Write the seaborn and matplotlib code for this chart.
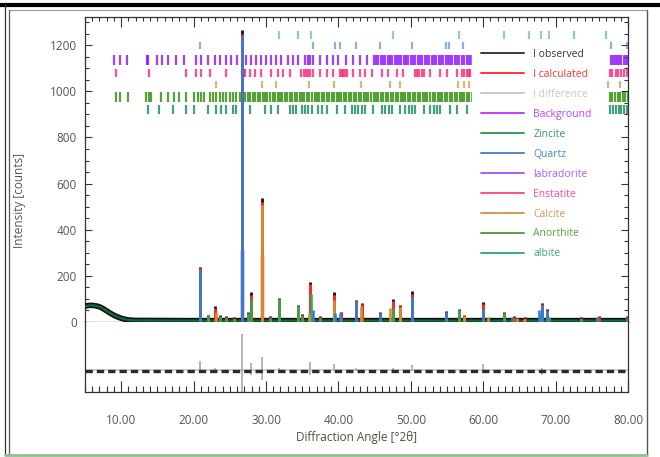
import numpy as np
import pandas as pd
import matplotlib
matplotlib.use("Agg")
import matplotlib.pyplot as plt
import seaborn as sns
from matplotlib.lines import Line2D
from matplotlib.ticker import MultipleLocator

sns.set_theme(style="white")
plt.rcParams['font.family'] = ['Open Sans', 'DejaVu Sans']

# ---------------- data ----------------
# background / low-angle hump
bg_x = [5, 5.5, 6, 6.5, 7, 7.5, 8, 8.5, 9, 9.5, 10, 10.5, 11, 12, 20, 40, 60, 80]
bg_y = [68, 72, 72, 70, 66, 58, 48, 38, 29, 22, 16, 12, 9, 7, 6, 6, 6, 6]

# observed peak tips (2theta, counts)
obs_pos = [20.86, 22.0, 23.0, 23.6, 24.5, 25.6, 26.64, 27.45, 27.9, 29.4, 30.5, 31.8,
           34.4, 35.0, 36.1, 37.5, 39.4, 40.3, 42.45, 43.2, 45.8, 47.5, 48.5, 50.14,
           54.9, 56.6, 57.4, 60.0, 62.9, 64.3, 65.8, 68.1, 68.8, 73.5, 76.0, 79.9]
obs_h = [240, 30, 68, 30, 25, 20, 1265, 45, 130, 537, 25, 104,
         74, 35, 173, 25, 130, 45, 96, 82, 43, 98, 74, 134,
         47, 56, 30, 88, 43, 25, 20, 82, 55, 20, 25, 25]
# calculated tips
calc_h = [232, 26, 60, 26, 22, 17, 1250, 40, 118, 520, 22, 100,
          70, 30, 165, 22, 118, 42, 92, 76, 40, 92, 70, 122,
          44, 52, 27, 78, 40, 22, 18, 78, 52, 18, 22, 22]

# phase contributions
quartz_pos = [20.86, 26.64, 36.54, 39.47, 40.29, 42.45, 45.79, 50.14, 54.87, 59.96, 64.03, 67.74, 68.14, 68.8, 75.66, 79.88]
quartz_h = [225, 1240, 50, 40, 40, 90, 40, 110, 42, 55, 20, 50, 72, 48, 20, 20]
calcite_pos = [23.06, 29.40, 35.97, 39.42, 43.17, 47.12, 48.52, 57.41, 60.68, 64.68, 65.6]
calcite_h = [45, 505, 40, 95, 70, 60, 66, 26, 20, 16, 14]
zincite_pos = [31.77, 34.42, 36.25, 47.54, 56.6, 62.86, 67.96, 69.1]
zincite_h = [98, 68, 120, 60, 50, 38, 34, 22]
anorthite_pk_pos = [22.0, 23.6, 24.5, 25.6, 27.45, 27.9, 30.5, 35.0, 37.5, 73.5]
anorthite_pk_h = [24, 22, 18, 14, 38, 100, 18, 28, 18, 15]

# difference curve spikes
diff_pos = [20.86, 23.0, 26.64, 26.64, 27.9, 27.9, 29.4, 29.4, 31.8, 36.1, 36.1, 39.4,
            42.45, 47.5, 47.5, 50.14, 60.0, 68.1, 68.1]
diff_val = [45, 15, 160, -110, 35, -15, 60, -40, 15, 40, -15, 30,
            15, 15, -10, 25, 30, 15, -15]

# reflection tick positions
zincite_ticks = [31.77, 34.42, 36.25, 47.54, 56.6, 62.86, 66.38, 67.96, 69.1, 72.56, 76.95]
quartz_ticks = [20.86, 26.64, 36.54, 39.47, 40.29, 42.45, 45.79, 50.14, 54.87, 55.33, 57.2,
                59.96, 64.03, 67.74, 68.14, 68.31, 73.47, 75.66, 77.67, 79.88]
labradorite_ticks = [8.94, 9.82, 10.79, 13.55, 13.75, 15.0, 15.7, 16.4, 17.58, 18.64, 20.35, 21.0,
                     21.96, 22.9, 23.58, 24.5, 25.2, 25.98, 27.28, 27.97, 28.67, 29.36, 30.05,
                     30.75, 31.44, 32.14, 33.06, 33.75, 34.45, 35.4, 35.75, 36.06, 36.5, 37.4,
                     38.4, 39.3, 40.0, 41.1, 42.06, 43.0, 43.9, 44.85, 45.2, 45.5, 45.85, 46.1,
                     46.45, 46.8, 47.1, 47.4, 47.75, 48.05, 48.4, 48.7, 49.0, 49.35, 49.65, 50.0,
                     50.3, 50.6, 50.95, 51.3, 51.6, 51.9, 52.25, 52.55, 52.9, 53.2, 53.5, 53.85,
                     54.15, 54.5, 54.8, 55.1, 55.45, 55.75, 56.1, 56.4, 56.7, 57.05, 57.35, 57.7,
                     58.0, 58.25, 77.6, 77.9, 78.2, 78.5, 78.8, 79.1, 79.4, 79.7, 79.95]
enstatite_ticks = [9.35, 13.88, 18.97, 20.35, 21.04, 22.2, 24.5, 26.68, 26.9, 27.14, 27.74, 28.44,
                   29.36, 30.75, 31.67, 32.36, 33.29, 34.9, 35.2, 35.46, 35.75, 36.06, 36.52,
                   37.45, 38.37, 39.29, 40.22, 40.45, 40.68, 40.9, 41.14, 42.06, 42.99, 43.68,
                   44.6, 45.99, 46.91, 48.07, 48.99, 50.6, 50.9, 51.2, 51.5, 51.77, 52.7, 54.08,
                   55.0, 56.4, 57.1, 57.4, 57.7, 58.0, 58.24, 77.5, 77.8, 78.3, 78.6, 79.0,
                   79.4, 79.8]
calcite_ticks = [23.06, 29.4, 31.44, 35.97, 39.43, 43.17, 47.12, 48.52, 56.57, 57.41, 58.1,
                 60.68, 61.0, 61.4, 63.07, 64.68, 65.6, 69.2, 70.25, 72.9, 73.7, 76.3, 77.2, 78.9]
anorthite_ticks = [9.35, 9.82, 10.88, 13.42, 13.79, 14.11, 15.5, 16.42, 17.35, 18.04, 18.97, 20.12,
                   20.58, 21.04, 21.5, 22.2, 22.66, 23.12, 23.58, 24.04, 24.5, 24.97, 25.43, 25.9,
                   26.36, 26.82, 27.15, 27.5, 27.85, 28.2, 28.5, 28.85, 29.2, 29.55, 29.9, 30.2,
                   30.55, 30.9, 31.25, 31.6, 31.9, 32.25, 32.6, 32.95, 33.3, 33.6, 33.95, 34.3,
                   34.65, 35.0, 35.3, 35.65, 36.0, 36.35, 36.7, 37.0, 37.35, 37.7, 38.05, 38.4,
                   38.7, 39.05, 39.4, 39.75, 40.1, 40.4, 40.75, 41.1, 41.45, 41.8, 42.1, 42.45,
                   42.8, 43.15, 43.5, 43.8, 44.15, 44.5, 44.85, 45.2, 45.5, 45.85, 46.2, 46.55,
                   46.9, 47.2, 47.55, 47.9, 48.25, 48.6, 48.9, 49.25, 49.6, 49.95, 50.3, 50.6,
                   50.95, 51.3, 51.65, 52.0, 52.3, 52.65, 53.0, 53.35, 53.7, 54.0, 54.35, 54.7,
                   55.05, 55.4, 55.7, 56.05, 56.4, 56.75, 57.1, 57.4, 57.75, 58.1, 58.45, 77.5,
                   77.85, 78.2, 78.55, 78.9, 79.25, 79.6, 79.95]
albite_ticks = [13.65, 15.27, 17.12, 18.96, 20.12, 21.97, 23.03, 23.82, 24.51, 25.43, 25.89, 27.74,
                29.82, 30.75, 31.67, 33.29, 33.75, 34.21, 34.91, 35.37, 35.83, 36.29, 37.21,
                37.68, 38.37, 39.76, 40.91, 41.84, 42.3, 42.76, 43.22, 43.68, 44.84, 45.99,
                46.46, 46.92, 47.38, 48.54, 49.23, 49.69, 50.15, 50.62, 51.77, 52.7, 53.16,
                53.62, 54.08, 55.47, 56.39, 57.78, 77.5, 77.9, 78.3, 78.7, 79.1, 79.5, 79.9]

legend_labels = ["I observed", "I calculated", "I difference", "Background", "Zincite", "Quartz",
                 "labradorite", "Enstatite", "Calcite", "Anorthite", "albite"]
legend_colors = ["#3a3a3a", "#ff3535", "#c8c8c8", "#c040ff", "#3a9a5a", "#4a86d0",
                 "#a060ff", "#ff4f8f", "#d09a55", "#5aa040", "#3aa88a"]
x_ticklabels = ["10.00", "20.00", "30.00", "40.00", "50.00", "60.00", "70.00", "80.00"]

# ---------------- figure ----------------
W, H = 660, 457
fig = plt.figure(figsize=(W / 100, H / 100), dpi=100)
L, R = 85 / W, 628 / W
ax = fig.add_axes([L, 1 - 322 / H, R - L, (322 - 17) / H])
axr = fig.add_axes([L, 1 - 392 / H, R - L, (392 - 322) / H], sharex=ax)

# background hump (observed thick black band, green calc/background line)
bg = pd.DataFrame({"x": bg_x, "y": bg_y})
sns.lineplot(data=bg, x="x", y="y", ax=ax, color="#111111", lw=4.0, zorder=3)
sns.lineplot(data=bg, x="x", y="y", ax=ax, color="#0f6a3a", lw=1.6, zorder=4)

# faint halos at base of strongest peaks
ax.vlines([26.64], 0, 310, colors="#a8ccf0", lw=3.6, alpha=0.8, zorder=2)
ax.vlines([29.40], 0, 290, colors="#eed3ae", lw=3.6, alpha=0.8, zorder=2)

# observed, calculated, then phases
ax.vlines(obs_pos, 0, obs_h, colors="#1a1a1a", lw=2.1, zorder=3)
ax.vlines(obs_pos, 0, calc_h, colors="#ff2a2a", lw=2.1, zorder=4)
ax.vlines(anorthite_pk_pos, 0, anorthite_pk_h, colors="#3aa050", lw=1.9, zorder=5)
ax.vlines(zincite_pos, 0, zincite_h, colors="#34a853", lw=1.9, zorder=5)
ax.vlines(calcite_pos, 0, calcite_h, colors="#d4902c", lw=1.9, zorder=5)
ax.vlines(quartz_pos, 0, quartz_h, colors="#2f7fd8", lw=1.9, zorder=5)

# reflection tick rows
rows = [
    (zincite_ticks, 1227, 1261, "#3aa860", 0.55),
    (quartz_ticks, 1183, 1214, "#3a80d0", 0.6),
    (labradorite_ticks, 1114, 1157, "#8a10ff", 0.8),
    (enstatite_ticks, 1062, 1097, "#ff2277", 0.8),
    (calcite_ticks, 1014, 1045, "#d49a50", 0.75),
    (anorthite_ticks, 953, 997, "#2e8a0a", 0.8),
    (albite_ticks, 901, 940, "#168a5c", 0.8),
]
for pos, y0, y1, c, a in rows:
    ax.vlines(pos, y0, y1, colors=c, lw=1.6, alpha=a, zorder=1)

# residual panel
axr.vlines(diff_pos, 0, diff_val, colors="#a8a8a8", lw=1.2, zorder=2)
axr.axhline(5, color="#c8c8c8", lw=1.2, zorder=1)
axr.axhline(0, color="#2a2a2a", lw=2.4, ls=(0, (2.2, 1.2)), zorder=3)

# axes limits and ticks
ax.set_xlim(5, 80)
ax.set_ylim(0, 1322)
axr.set_ylim(-90, 212)
ax.yaxis.set_major_locator(MultipleLocator(200))
ax.yaxis.set_minor_locator(MultipleLocator(50))
ax.xaxis.set_major_locator(MultipleLocator(10))
ax.xaxis.set_minor_locator(MultipleLocator(1))
ax.set_xlabel("")
ax.set_ylabel("")
axr.set_xlabel("")
axr.set_ylabel("")
axr.set_yticks([])
axr.set_xticks([10, 20, 30, 40, 50, 60, 70, 80])
axr.set_xticklabels(x_ticklabels)

ax.tick_params(axis="y", which="both", direction="in", left=True, right=True,
               labelleft=True, labelsize=8.5, labelcolor="#555555", pad=6, color="#333333", width=0.8)
ax.tick_params(axis="y", which="major", length=5)
ax.tick_params(axis="y", which="minor", length=3)
ax.tick_params(axis="x", which="both", direction="in", top=True, bottom=False,
               labelbottom=False, color="#333333", width=0.8)
ax.tick_params(axis="x", which="major", length=7)
ax.tick_params(axis="x", which="minor", length=3)
axr.tick_params(axis="x", which="both", direction="in", top=False, bottom=True,
                labelsize=8.5, labelcolor="#555555", pad=16, color="#333333", width=0.8)
axr.tick_params(axis="x", which="major", length=8)
axr.tick_params(axis="x", which="minor", length=4)

for a in (ax, axr):
    for s in a.spines.values():
        s.set_color("#333333")
        s.set_linewidth(0.9)
        s.set_visible(True)
axr.spines["top"].set_visible(False)
ax.set_facecolor("white")
axr.set_facecolor("white")

# legend
handles = [Line2D([0], [0], color=c, lw=1.4) for c in legend_colors]
leg = ax.legend(handles, legend_labels, loc="upper left",
                bbox_to_anchor=((472 - 85) / 543, (322 - 40) / 305), borderaxespad=0,
                frameon=True, fontsize=7.5, handlelength=4.1, handletextpad=0.95,
                labelspacing=0.86, borderpad=0.85)
leg.get_frame().set_facecolor("white")
leg.get_frame().set_edgecolor("white")
leg.get_frame().set_alpha(1.0)
leg.set_zorder(20)
for t, c in zip(leg.get_texts(), legend_colors):
    t.set_color(c)

# axis titles
fig.text(356.5 / W, 1 - 438 / H, "Diffraction Angle [°2θ]", ha="center", va="center",
         fontsize=8.5, color="#5b4b3b")
fig.text(20 / W, 1 - 200 / H, "Intensity [counts]", ha="center", va="center",
         rotation=90, fontsize=8.5, color="#555555")

# outer frame
fig.add_artist(Line2D([0, 1], [1 - 5 / H, 1 - 5 / H], color="black", lw=3, transform=fig.transFigure))
fig.add_artist(Line2D([10 / W, 647 / W], [1 - 10 / H, 1 - 10 / H], color="#9a9a9a", lw=0.8, transform=fig.transFigure))
fig.add_artist(Line2D([5 / W, 5 / W], [1 - 455 / H, 1 - 5 / H], color="#333333", lw=0.9, transform=fig.transFigure))
fig.add_artist(Line2D([9 / W, 9 / W], [1 - 455 / H, 1 - 10 / H], color="#555555", lw=0.9, transform=fig.transFigure))
fig.add_artist(Line2D([647 / W, 647 / W], [1 - 455 / H, 1 - 10 / H], color="#555555", lw=1.0, transform=fig.transFigure))
fig.add_artist(Line2D([5 / W, 647 / W], [1 - 455 / H, 1 - 455 / H], color="#8fc08f", lw=2.0, transform=fig.transFigure))

fig.savefig("out.png", dpi=100, facecolor="white")
